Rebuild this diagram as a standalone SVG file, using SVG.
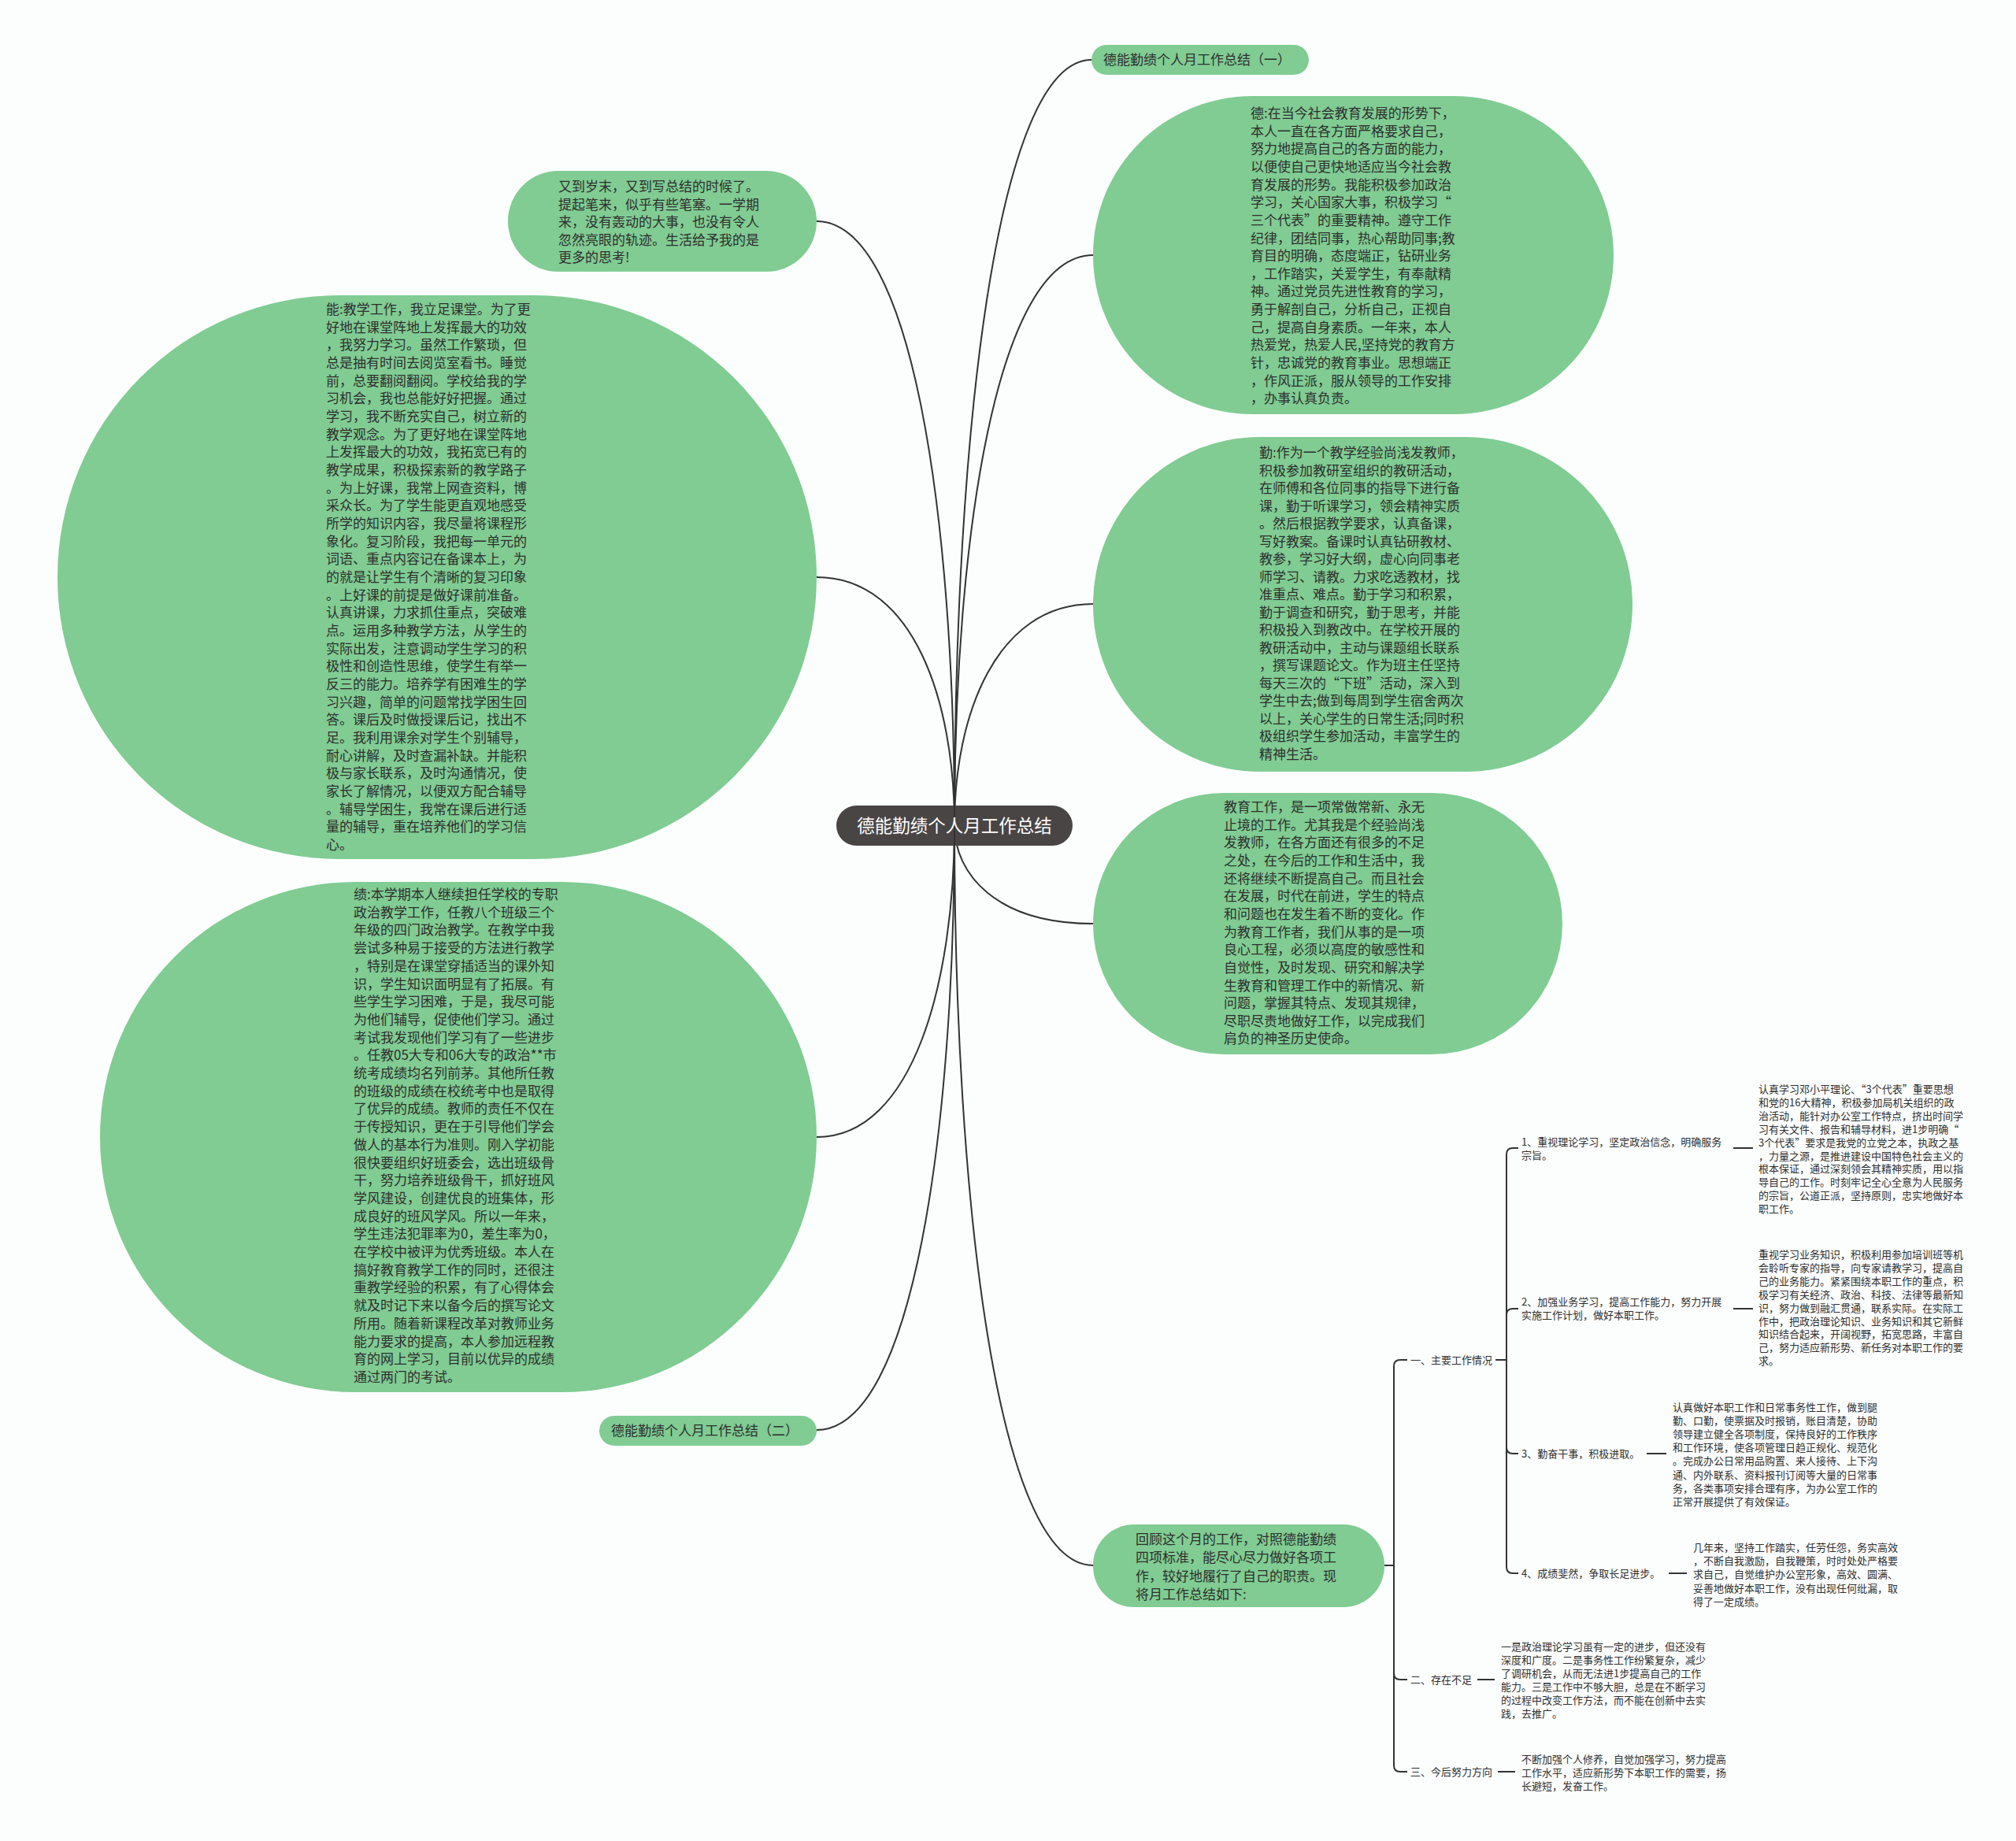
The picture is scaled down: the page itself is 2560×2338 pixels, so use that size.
<svg xmlns="http://www.w3.org/2000/svg" width="2560" height="2338" viewBox="0 0 2560 2338">
<style>
.n{fill:#80cc93}
.t{font-family:"Noto Sans CJK SC","Noto Sans",sans-serif;font-size:17px;fill:#2e2e2e}
.s{font-size:13px}
.c{fill:none;stroke:#333;stroke-width:2}
.r{fill:#4a4545}
.w{fill:#ffffff;font-size:22.5px}
</style>
<rect x="0" y="0" width="2560" height="2338" fill="#fcfefe"/>
<g id="connectors">
<path class="c" d="M1212,1048 C1212,562 1264,76 1386,76"/>
<path class="c" d="M1212,1048 C1212,686 1265,324 1388,324"/>
<path class="c" d="M1212,1048 C1212,908 1265,767 1388,767"/>
<path class="c" d="M1212,1048 C1212,1110 1265,1173 1388,1173"/>
<path class="c" d="M1212,1048 C1212,1518 1265,1988 1388,1988"/>
<path class="c" d="M1212,1048 C1212,665 1160,281 1037,281"/>
<path class="c" d="M1212,1048 C1212,890 1160,733 1037,733"/>
<path class="c" d="M1212,1048 C1212,1246 1160,1444 1037,1444"/>
<path class="c" d="M1212,1048 C1212,1432 1160,1816 1037,1816"/>
<path class="c" d="M1758,1988 L1770,1988"/>
<path class="c" d="M1770,1735 L1770,2242"/>
<path class="c" d="M1770,1735 Q1770,1727 1778,1727 L1787,1727"/>
<path class="c" d="M1770,2125 Q1770,2133 1778,2133 L1787,2133"/>
<path class="c" d="M1770,2242 Q1770,2250 1778,2250 L1787,2250"/>
<path class="c" d="M1899,1727 L1913,1727"/>
<path class="c" d="M1913,1466 L1913,1990"/>
<path class="c" d="M1913,1466 Q1913,1458 1921,1458 L1928,1458"/>
<path class="c" d="M1913,1670 Q1913,1662 1921,1662 L1928,1662"/>
<path class="c" d="M1913,1838 Q1913,1846 1921,1846 L1928,1846"/>
<path class="c" d="M1913,1990 Q1913,1998 1921,1998 L1928,1998"/>
<path class="c" d="M2201,1458 L2226,1458"/>
<path class="c" d="M2201,1662 L2226,1662"/>
<path class="c" d="M2091,1846 L2116,1846"/>
<path class="c" d="M2119,1998 L2142,1998"/>
<path class="c" d="M1876,2133 L1898,2133"/>
<path class="c" d="M1902,2250 L1924,2250"/>
</g>
<g id="root">
<rect class="r" x="1062" y="1023" width="300" height="51" rx="25.5"/>
<path d="M1212,1023 L1212,1074" stroke="#333" stroke-width="2"/>
<text class="t w" x="1212" y="1057" text-anchor="middle">德能勤绩个人月工作总结</text>
</g>
<g id="r1">
<rect class="n" x="1386" y="57" width="276" height="38" rx="19"/>
<text class="t" x="1520" y="82" text-anchor="middle">德能勤绩个人月工作总结（一）</text>
</g>
<g id="r2">
<rect class="n" x="1388" y="122" width="661" height="404" rx="202"/>
<text class="t" x="1588" y="150"><tspan x="1588">德:在当今社会教育发展的形势下，</tspan><tspan x="1588" dy="22.65">本人一直在各方面严格要求自己，</tspan><tspan x="1588" dy="22.65">努力地提高自己的各方面的能力，</tspan><tspan x="1588" dy="22.65">以便使自己更快地适应当今社会教</tspan><tspan x="1588" dy="22.65">育发展的形势。我能积极参加政治</tspan><tspan x="1588" dy="22.65">学习，关心国家大事，积极学习“</tspan><tspan x="1588" dy="22.65">三个代表”的重要精神。遵守工作</tspan><tspan x="1588" dy="22.65">纪律，团结同事，热心帮助同事;教</tspan><tspan x="1588" dy="22.65">育目的明确，态度端正，钻研业务</tspan><tspan x="1588" dy="22.65">，工作踏实，关爱学生，有奉献精</tspan><tspan x="1588" dy="22.65">神。通过党员先进性教育的学习，</tspan><tspan x="1588" dy="22.65">勇于解剖自己，分析自己，正视自</tspan><tspan x="1588" dy="22.65">己，提高自身素质。一年来，本人</tspan><tspan x="1588" dy="22.65">热爱党，热爱人民,坚持党的教育方</tspan><tspan x="1588" dy="22.65">针，忠诚党的教育事业。思想端正</tspan><tspan x="1588" dy="22.65">，作风正派，服从领导的工作安排</tspan><tspan x="1588" dy="22.65">，办事认真负责。</tspan></text>
</g>
<g id="r3">
<rect class="n" x="1388" y="555" width="685" height="425" rx="212"/>
<text class="t" x="1599" y="581"><tspan x="1599">勤:作为一个教学经验尚浅发教师，</tspan><tspan x="1599" dy="22.5">积极参加教研室组织的教研活动，</tspan><tspan x="1599" dy="22.5">在师傅和各位同事的指导下进行备</tspan><tspan x="1599" dy="22.5">课，勤于听课学习，领会精神实质</tspan><tspan x="1599" dy="22.5">。然后根据教学要求，认真备课，</tspan><tspan x="1599" dy="22.5">写好教案。备课时认真钻研教材、</tspan><tspan x="1599" dy="22.5">教参，学习好大纲，虚心向同事老</tspan><tspan x="1599" dy="22.5">师学习、请教。力求吃透教材，找</tspan><tspan x="1599" dy="22.5">准重点、难点。勤于学习和积累，</tspan><tspan x="1599" dy="22.5">勤于调查和研究，勤于思考，并能</tspan><tspan x="1599" dy="22.5">积极投入到教改中。在学校开展的</tspan><tspan x="1599" dy="22.5">教研活动中，主动与课题组长联系</tspan><tspan x="1599" dy="22.5">，撰写课题论文。作为班主任坚持</tspan><tspan x="1599" dy="22.5">每天三次的“下班”活动，深入到</tspan><tspan x="1599" dy="22.5">学生中去;做到每周到学生宿舍两次</tspan><tspan x="1599" dy="22.5">以上，关心学生的日常生活;同时积</tspan><tspan x="1599" dy="22.5">极组织学生参加活动，丰富学生的</tspan><tspan x="1599" dy="22.5">精神生活。</tspan></text>
</g>
<g id="r4">
<rect class="n" x="1388" y="1007" width="596" height="332" rx="166"/>
<text class="t" x="1554" y="1031"><tspan x="1554">教育工作，是一项常做常新、永无</tspan><tspan x="1554" dy="22.65">止境的工作。尤其我是个经验尚浅</tspan><tspan x="1554" dy="22.65">发教师，在各方面还有很多的不足</tspan><tspan x="1554" dy="22.65">之处，在今后的工作和生活中，我</tspan><tspan x="1554" dy="22.65">还将继续不断提高自己。而且社会</tspan><tspan x="1554" dy="22.65">在发展，时代在前进，学生的特点</tspan><tspan x="1554" dy="22.65">和问题也在发生着不断的变化。作</tspan><tspan x="1554" dy="22.65">为教育工作者，我们从事的是一项</tspan><tspan x="1554" dy="22.65">良心工程，必须以高度的敏感性和</tspan><tspan x="1554" dy="22.65">自觉性，及时发现、研究和解决学</tspan><tspan x="1554" dy="22.65">生教育和管理工作中的新情况、新</tspan><tspan x="1554" dy="22.65">问题，掌握其特点、发现其规律，</tspan><tspan x="1554" dy="22.65">尽职尽责地做好工作，以完成我们</tspan><tspan x="1554" dy="22.65">肩负的神圣历史使命。</tspan></text>
</g>
<g id="r5">
<rect class="n" x="1388" y="1936" width="370" height="105" rx="52"/>
<text class="t" x="1442" y="1961"><tspan x="1442">回顾这个月的工作，对照德能勤绩</tspan><tspan x="1442" dy="23.3">四项标准，能尽心尽力做好各项工</tspan><tspan x="1442" dy="23.3">作，较好地履行了自己的职责。现</tspan><tspan x="1442" dy="23.3">将月工作总结如下:</tspan></text>
</g>
<g id="l1">
<rect class="n" x="645" y="217" width="392" height="128" rx="64"/>
<text class="t" x="709" y="243"><tspan x="709">又到岁末，又到写总结的时候了。</tspan><tspan x="709" dy="22.5">提起笔来，似乎有些笔塞。一学期</tspan><tspan x="709" dy="22.5">来，没有轰动的大事，也没有令人</tspan><tspan x="709" dy="22.5">忽然亮眼的轨迹。生活给予我的是</tspan><tspan x="709" dy="22.5">更多的思考!</tspan></text>
</g>
<g id="l2">
<rect class="n" x="73" y="375" width="964" height="716" rx="358"/>
<text class="t" x="414" y="399"><tspan x="414">能:教学工作，我立足课堂。为了更</tspan><tspan x="414" dy="22.67">好地在课堂阵地上发挥最大的功效</tspan><tspan x="414" dy="22.67">，我努力学习。虽然工作繁琐，但</tspan><tspan x="414" dy="22.67">总是抽有时间去阅览室看书。睡觉</tspan><tspan x="414" dy="22.67">前，总要翻阅翻阅。学校给我的学</tspan><tspan x="414" dy="22.67">习机会，我也总能好好把握。通过</tspan><tspan x="414" dy="22.67">学习，我不断充实自己，树立新的</tspan><tspan x="414" dy="22.67">教学观念。为了更好地在课堂阵地</tspan><tspan x="414" dy="22.67">上发挥最大的功效，我拓宽已有的</tspan><tspan x="414" dy="22.67">教学成果，积极探索新的教学路子</tspan><tspan x="414" dy="22.67">。为上好课，我常上网查资料，博</tspan><tspan x="414" dy="22.67">采众长。为了学生能更直观地感受</tspan><tspan x="414" dy="22.67">所学的知识内容，我尽量将课程形</tspan><tspan x="414" dy="22.67">象化。复习阶段，我把每一单元的</tspan><tspan x="414" dy="22.67">词语、重点内容记在备课本上，为</tspan><tspan x="414" dy="22.67">的就是让学生有个清晰的复习印象</tspan><tspan x="414" dy="22.67">。上好课的前提是做好课前准备。</tspan><tspan x="414" dy="22.67">认真讲课，力求抓住重点，突破难</tspan><tspan x="414" dy="22.67">点。运用多种教学方法，从学生的</tspan><tspan x="414" dy="22.67">实际出发，注意调动学生学习的积</tspan><tspan x="414" dy="22.67">极性和创造性思维，使学生有举一</tspan><tspan x="414" dy="22.67">反三的能力。培养学有困难生的学</tspan><tspan x="414" dy="22.67">习兴趣，简单的问题常找学困生回</tspan><tspan x="414" dy="22.67">答。课后及时做授课后记，找出不</tspan><tspan x="414" dy="22.67">足。我利用课余对学生个别辅导，</tspan><tspan x="414" dy="22.67">耐心讲解，及时查漏补缺。并能积</tspan><tspan x="414" dy="22.67">极与家长联系，及时沟通情况，使</tspan><tspan x="414" dy="22.67">家长了解情况，以便双方配合辅导</tspan><tspan x="414" dy="22.67">。辅导学困生，我常在课后进行适</tspan><tspan x="414" dy="22.67">量的辅导，重在培养他们的学习信</tspan><tspan x="414" dy="22.67">心。</tspan></text>
</g>
<g id="l3">
<rect class="n" x="127" y="1120" width="910" height="648" rx="324"/>
<text class="t" x="449" y="1142"><tspan x="449">绩:本学期本人继续担任学校的专职</tspan><tspan x="449" dy="22.7">政治教学工作，任教八个班级三个</tspan><tspan x="449" dy="22.7">年级的四门政治教学。在教学中我</tspan><tspan x="449" dy="22.7">尝试多种易于接受的方法进行教学</tspan><tspan x="449" dy="22.7">，特别是在课堂穿插适当的课外知</tspan><tspan x="449" dy="22.7">识，学生知识面明显有了拓展。有</tspan><tspan x="449" dy="22.7">些学生学习困难，于是，我尽可能</tspan><tspan x="449" dy="22.7">为他们辅导，促使他们学习。通过</tspan><tspan x="449" dy="22.7">考试我发现他们学习有了一些进步</tspan><tspan x="449" dy="22.7">。任教05大专和06大专的政治**市</tspan><tspan x="449" dy="22.7">统考成绩均名列前茅。其他所任教</tspan><tspan x="449" dy="22.7">的班级的成绩在校统考中也是取得</tspan><tspan x="449" dy="22.7">了优异的成绩。教师的责任不仅在</tspan><tspan x="449" dy="22.7">于传授知识，更在于引导他们学会</tspan><tspan x="449" dy="22.7">做人的基本行为准则。刚入学初能</tspan><tspan x="449" dy="22.7">很快要组织好班委会，选出班级骨</tspan><tspan x="449" dy="22.7">干，努力培养班级骨干，抓好班风</tspan><tspan x="449" dy="22.7">学风建设，创建优良的班集体，形</tspan><tspan x="449" dy="22.7">成良好的班风学风。所以一年来，</tspan><tspan x="449" dy="22.7">学生违法犯罪率为0，差生率为0，</tspan><tspan x="449" dy="22.7">在学校中被评为优秀班级。本人在</tspan><tspan x="449" dy="22.7">搞好教育教学工作的同时，还很注</tspan><tspan x="449" dy="22.7">重教学经验的积累，有了心得体会</tspan><tspan x="449" dy="22.7">就及时记下来以备今后的撰写论文</tspan><tspan x="449" dy="22.7">所用。随着新课程改革对教师业务</tspan><tspan x="449" dy="22.7">能力要求的提高，本人参加远程教</tspan><tspan x="449" dy="22.7">育的网上学习，目前以优异的成绩</tspan><tspan x="449" dy="22.7">通过两门的考试。</tspan></text>
</g>
<g id="l4">
<rect class="n" x="761" y="1798" width="276" height="38" rx="19"/>
<text class="t" x="895" y="1823" text-anchor="middle">德能勤绩个人月工作总结（二）</text>
</g>
<g id="s1"><text class="t s" x="1791" y="1732">一、主要工作情况</text></g>
<g id="s2"><text class="t s" x="1791" y="2138">二、存在不足</text></g>
<g id="s3"><text class="t s" x="1791" y="2255">三、今后努力方向</text></g>
<g id="i1"><text class="t s" x="1932" y="1455"><tspan x="1932">1、重视理论学习，坚定政治信念，明确服务</tspan><tspan x="1932" dy="17">宗旨。</tspan></text></g>
<g id="i2"><text class="t s" x="1932" y="1658"><tspan x="1932">2、加强业务学习，提高工作能力，努力开展</tspan><tspan x="1932" dy="17">实施工作计划，做好本职工作。</tspan></text></g>
<g id="i3"><text class="t s" x="1932" y="1851">3、勤奋干事，积极进取。</text></g>
<g id="i4"><text class="t s" x="1932" y="2003">4、成绩斐然，争取长足进步。</text></g>
<g id="d1"><text class="t s" x="2233" y="1388"><tspan x="2233">认真学习邓小平理论、“3个代表”重要思想</tspan><tspan x="2233" dy="16.9">和党的16大精神，积极参加局机关组织的政</tspan><tspan x="2233" dy="16.9">治活动，能针对办公室工作特点，挤出时间学</tspan><tspan x="2233" dy="16.9">习有关文件、报告和辅导材料，进1步明确“</tspan><tspan x="2233" dy="16.9">3个代表”要求是我党的立党之本，执政之基</tspan><tspan x="2233" dy="16.9">，力量之源，是推进建设中国特色社会主义的</tspan><tspan x="2233" dy="16.9">根本保证，通过深刻领会其精神实质，用以指</tspan><tspan x="2233" dy="16.9">导自己的工作。时刻牢记全心全意为人民服务</tspan><tspan x="2233" dy="16.9">的宗旨，公道正派，坚持原则，忠实地做好本</tspan><tspan x="2233" dy="16.9">职工作。</tspan></text></g>
<g id="d2"><text class="t s" x="2233" y="1598"><tspan x="2233">重视学习业务知识，积极利用参加培训班等机</tspan><tspan x="2233" dy="16.9">会聆听专家的指导，向专家请教学习，提高自</tspan><tspan x="2233" dy="16.9">己的业务能力。紧紧围绕本职工作的重点，积</tspan><tspan x="2233" dy="16.9">极学习有关经济、政治、科技、法律等最新知</tspan><tspan x="2233" dy="16.9">识，努力做到融汇贯通，联系实际。在实际工</tspan><tspan x="2233" dy="16.9">作中，把政治理论知识、业务知识和其它新鲜</tspan><tspan x="2233" dy="16.9">知识结合起来，开阔视野，拓宽思路，丰富自</tspan><tspan x="2233" dy="16.9">己，努力适应新形势、新任务对本职工作的要</tspan><tspan x="2233" dy="16.9">求。</tspan></text></g>
<g id="d3"><text class="t s" x="2124" y="1792"><tspan x="2124">认真做好本职工作和日常事务性工作，做到腿</tspan><tspan x="2124" dy="17.1">勤、口勤，使票据及时报销，账目清楚，协助</tspan><tspan x="2124" dy="17.1">领导建立健全各项制度，保持良好的工作秩序</tspan><tspan x="2124" dy="17.1">和工作环境，使各项管理日趋正规化、规范化</tspan><tspan x="2124" dy="17.1">。完成办公日常用品购置、来人接待、上下沟</tspan><tspan x="2124" dy="17.1">通、内外联系、资料报刊订阅等大量的日常事</tspan><tspan x="2124" dy="17.1">务，各类事项安排合理有序，为办公室工作的</tspan><tspan x="2124" dy="17.1">正常开展提供了有效保证。</tspan></text></g>
<g id="d4"><text class="t s" x="2150" y="1970"><tspan x="2150">几年来，坚持工作踏实，任劳任怨，务实高效</tspan><tspan x="2150" dy="17.2">，不断自我激励，自我鞭策，时时处处严格要</tspan><tspan x="2150" dy="17.2">求自己，自觉维护办公室形象，高效、圆满、</tspan><tspan x="2150" dy="17.2">妥善地做好本职工作，没有出现任何纰漏，取</tspan><tspan x="2150" dy="17.2">得了一定成绩。</tspan></text></g>
<g id="d5"><text class="t s" x="1906" y="2096"><tspan x="1906">一是政治理论学习虽有一定的进步，但还没有</tspan><tspan x="1906" dy="17">深度和广度。二是事务性工作纷繁复杂，减少</tspan><tspan x="1906" dy="17">了调研机会，从而无法进1步提高自己的工作</tspan><tspan x="1906" dy="17">能力。三是工作中不够大胆，总是在不断学习</tspan><tspan x="1906" dy="17">的过程中改变工作方法，而不能在创新中去实</tspan><tspan x="1906" dy="17">践，去推广。</tspan></text></g>
<g id="d6"><text class="t s" x="1932" y="2239"><tspan x="1932">不断加强个人修养，自觉加强学习，努力提高</tspan><tspan x="1932" dy="16.8">工作水平，适应新形势下本职工作的需要，扬</tspan><tspan x="1932" dy="16.8">长避短，发奋工作。</tspan></text></g>
</svg>
